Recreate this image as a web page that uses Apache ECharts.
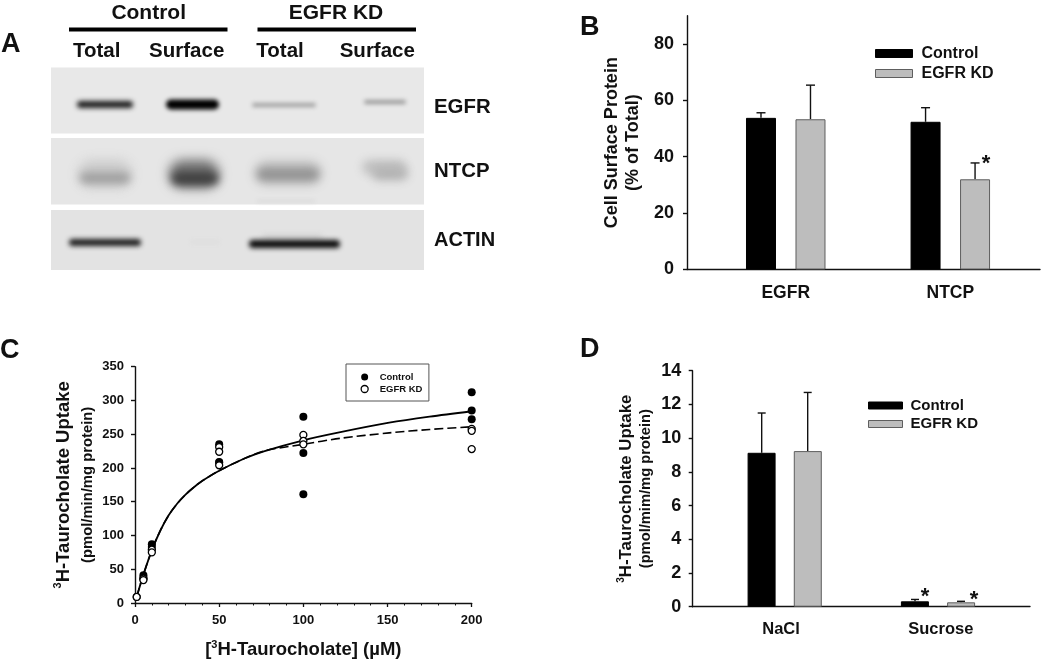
<!DOCTYPE html>
<html>
<head>
<meta charset="utf-8">
<style>
  html, body { margin: 0; padding: 0; background: #fff; }
  #main { width: 1050px; height: 660px; }
</style>
<script src="https://cdn.jsdelivr.net/npm/echarts@6/dist/echarts.min.js"></script>
</head>
<body>
<div id="main"></div>
<script>
// panel B
const surfaceGroups = ['EGFR', 'NTCP']
const surfaceControl = [53.8, 52.4]
const surfaceControlErr = [55.6, 57.4]
const surfaceKd = [53.3, 32]
const surfaceKdErr = [65.4, 37.8]
const surfaceTicks = [0, 20, 40, 60, 80]

// panel C
const concControl = [1, 5, 5, 10, 10, 50, 50, 50, 100, 100, 100, 200, 200, 200]
const uptakeControl = [9, 41, 37, 87, 83, 235, 209, 208, 276, 222, 161, 312, 285, 272]
const concKd = [1, 5, 5, 10, 10, 50, 50, 50, 100, 100, 100, 200, 200, 200]
const uptakeKd = [9, 36, 34, 79, 75, 231, 224, 204, 249, 240, 235, 258, 255, 228]
const curveX = [1, 5, 10, 15, 20, 25, 30, 35, 40, 50, 65, 77, 100, 122, 151, 175, 200]
const curveControl = [9, 42, 78, 107, 130, 147, 160.5, 171.5, 181, 196, 214, 225, 241, 253, 267, 276, 284]
const curveKd = [9, 42, 78, 107, 130, 147, 160.5, 171.5, 181, 196, 214, 225.5, 235, 244, 252, 257, 261]

// panel D
const bufferGroups = ['NaCl', 'Sucrose']
const bufferLabelPos = [-0.024, 1.018]
const bufferControl = [9.13, 0.32]
const bufferControlErr = [11.49, 0.43]
const bufferKd = [9.23, 0.26]
const bufferKdErr = [12.71, 0.32]
const bufferTicks = [0, 2, 4, 6, 8, 10, 12, 14]

const legendNames = ['Control', 'EGFR KD']
const FONT = '"Liberation Sans", Arial, sans-serif'
const INK = '#111'

// soft edged rectangle for the blot: only the shadow of an off-screen rect is visible
function smear(x, y, w, h, color, blur) {
  return {
    type: 'rect',
    silent: true,
    shape: { x: x - 3000, y, width: w, height: h, r: h / 2 },
    style: { fill: color, shadowColor: color, shadowBlur: blur, shadowOffsetX: 3000 },
  }
}

function label(text, x, y, size, align) {
  return {
    type: 'text',
    silent: true,
    x,
    y,
    style: {
      text,
      fill: INK,
      font: `bold ${size}px ${FONT}`,
      textAlign: align || 'center',
      textVerticalAlign: 'middle',
    },
  }
}

function panelRect(y, h, fill) {
  return { type: 'rect', silent: true, shape: { x: 51, y, width: 373, height: h }, style: { fill } }
}

const blot = [
  panelRect(67.5, 66, '#e8e8e8'),
  panelRect(138, 66.5, '#e6e6e6'),
  panelRect(210, 60, '#e3e3e3'),

  // EGFR
  smear(77, 101, 56, 7, '#1c1c1c', 5),
  smear(166, 99.5, 53, 10, '#000000', 4),
  smear(252, 103, 64, 4, '#a0a0a0', 4),
  smear(364, 100, 42, 4, '#989898', 4),
  // NTCP
  smear(78, 160, 54, 28, '#cbcbcb', 12),
  smear(80, 173, 50, 10, '#9c9c9c', 9),
  smear(169, 160, 50, 28, '#6e6e6e', 12),
  smear(172, 173, 46, 11, '#3c3c3c', 9),
  smear(255, 162, 66, 22, '#b4b4b4', 11),
  smear(258, 170, 60, 9, '#8e8e8e', 8),
  smear(257, 200, 58, 2, '#d4d4d4', 4),
  smear(362, 160, 44, 14, '#c0c0c0', 10),
  smear(372, 167, 36, 13, '#b2b2b2', 10),
  // ACTIN
  smear(69, 239, 72, 7, '#1c1c1c', 5),
  smear(262, 236, 60, 3, '#bdbdbd', 6),
  smear(249, 240, 91, 8, '#0a0a0a', 5),
  smear(190, 241, 30, 2, '#d8d8d8', 5),

  label('Control', 148.7, 13, 21),
  label('EGFR KD', 336, 13, 21),
  { type: 'rect', silent: true, shape: { x: 69, y: 27.5, width: 158.5, height: 4 }, style: { fill: '#000' } },
  { type: 'rect', silent: true, shape: { x: 257.5, y: 27.5, width: 158.5, height: 4 }, style: { fill: '#000' } },
  label('Total', 96.7, 51, 20.5),
  label('Surface', 186.7, 51, 20.5),
  label('Total', 280, 51, 20.5),
  label('Surface', 377.3, 51, 20.5),
  label('EGFR', 434, 107, 20.4, 'left'),
  label('NTCP', 434, 171, 20.4, 'left'),
  label('ACTIN', 434, 240.5, 20, 'left'),
  label('A', 1, 44.5, 27, 'left'),
  label('B', 580, 27.5, 27, 'left'),
  label('C', 0, 351, 27, 'left'),
  label('D', 580, 350, 27, 'left'),
]

function pairs(xs, ys) {
  return xs.map((x, i) => [x, ys[i]])
}

function errorSeries(name, axisIndex, values, tops, offset, capHalf, starred, starDx, starDy) {
  return {
    name,
    type: 'custom',
    xAxisIndex: axisIndex,
    yAxisIndex: axisIndex,
    clip: false,
    silent: true,
    encode: { x: 0, y: 1 },
    data: values.map((v, i) => [i, tops[i], v, starred[i]]),
    renderItem(params, api) {
      const top = api.coord([api.value(0), api.value(1)])
      const base = api.coord([api.value(0), api.value(2)])
      const x = top[0] + offset
      const line = { stroke: '#111', lineWidth: 1.4 }
      const children = [
        { type: 'line', shape: { x1: x, y1: base[1], x2: x, y2: top[1] }, style: line },
        { type: 'line', shape: { x1: x - capHalf, y1: top[1], x2: x + capHalf, y2: top[1] }, style: line },
      ]
      if (api.value(3)) {
        children.push({
          type: 'text',
          x: x + starDx,
          y: top[1] + starDy,
          style: {
            text: '*',
            fill: INK,
            font: `bold 22px ${FONT}`,
            textAlign: 'center',
            textVerticalAlign: 'middle',
          },
        })
      }
      return { type: 'group', children }
    },
  }
}

function barSeries(name, axisIndex, values, barWidth) {
  return {
    name,
    type: 'bar',
    xAxisIndex: axisIndex,
    yAxisIndex: axisIndex,
    barWidth,
    barGap: '65%',
    silent: true,
    itemStyle: name === 'Control'
      ? { color: '#000', borderColor: '#000', borderWidth: 1 }
      : { color: '#bdbdbd', borderColor: '#5e5e5e', borderWidth: 1 },
    data: values.map((v, i) => [i, v]),
  }
}

const axisLine = { show: true, onZero: false, lineStyle: { color: '#111', width: 1.4 } }

function yAxis(gridIndex, max, ticks, labelMargin, tickLen, fontSize, name, nameGap, rich) {
  return {
    type: 'value',
    gridIndex,
    min: 0,
    max,
    name,
    nameLocation: 'middle',
    nameRotate: 90,
    nameGap,
    nameTextStyle: { rich },
    axisLine,
    axisTick: { show: true, length: tickLen, customValues: ticks, lineStyle: { color: '#111', width: 1.4 } },
    axisLabel: { customValues: ticks, margin: labelMargin, fontSize, fontWeight: 'bold', color: INK, fontFamily: FONT },
    splitLine: { show: false },
  }
}

function groupAxis(gridIndex, min, max, positions, names, fontSize, margin) {
  return {
    type: 'value',
    gridIndex,
    min,
    max,
    axisLine,
    axisTick: { show: false },
    axisLabel: {
      customValues: positions,
      margin,
      fontSize,
      fontWeight: 'bold',
      color: INK,
      fontFamily: FONT,
      formatter: (value) => names[positions.indexOf(value)],
    },
    splitLine: { show: false },
  }
}

function barLegend(left, top, fontSize, itemWidth, itemHeight, itemGap, textPad) {
  return {
    orient: 'vertical',
    left,
    top,
    padding: 0,
    itemWidth,
    itemHeight,
    itemGap,
    selectedMode: false,
    textStyle: { fontSize, fontWeight: 'bold', color: INK, fontFamily: FONT, padding: [0, 0, 0, textPad] },
    data: [
      { name: legendNames[0], icon: 'rect', itemStyle: { color: '#000', borderColor: '#000', borderWidth: 1 } },
      { name: legendNames[1], icon: 'rect', itemStyle: { color: '#bdbdbd', borderColor: '#5e5e5e', borderWidth: 1 } },
    ],
  }
}

const option = {
  animation: false,
  backgroundColor: '#fff',
  textStyle: { fontFamily: FONT, fontWeight: 'bold', color: INK },
  graphic: { elements: blot },
  grid: [
    { left: 687, top: 15.8, width: 353, height: 253.7, outerBoundsMode: 'none' },
    { left: 135, top: 366.7, width: 336.7, height: 236.3, outerBoundsMode: 'none' },
    { left: 692.7, top: 370.7, width: 337.3, height: 236, outerBoundsMode: 'none' },
  ],
  legend: [
    barLegend(875, 45.5, 16, 37, 8, 4, 4),
    barLegend(868, 398, 15, 34, 7, 3.5, 3),
    {
      orient: 'vertical',
      left: 346,
      top: 364,
      padding: [8, 6.5, 7, 14.5],
      itemWidth: 20,
      itemHeight: 7,
      itemGap: 2,
      selectedMode: false,
      borderColor: '#555',
      borderWidth: 1,
      textStyle: { fontSize: 9.5, fontWeight: 'bold', color: INK, fontFamily: FONT },
      data: [
        { name: legendNames[0], icon: 'circle', itemStyle: { color: '#000', borderColor: '#000', borderWidth: 0 } },
        { name: legendNames[1], icon: 'circle', itemStyle: { color: '#fff', borderColor: '#000', borderWidth: 1.3 } },
      ],
    },
  ],
  xAxis: [
    groupAxis(0, -0.6, 1.545, [0, 1], surfaceGroups, 17.5, 15),
    {
      type: 'value',
      gridIndex: 1,
      min: 0,
      max: 200,
      interval: 50,
      name: '{big|[}{sup|3}{big|H-Taurocholate] (µM)}',
      nameLocation: 'middle',
      nameGap: 36,
      nameTextStyle: {
        rich: {
          big: { fontSize: 18.5, fontWeight: 'bold', color: INK, fontFamily: FONT, lineHeight: 22 },
          sup: { fontSize: 11, fontWeight: 'bold', color: INK, fontFamily: FONT, verticalAlign: 'top', lineHeight: 22 },
        },
      },
      axisLine,
      axisTick: { show: true, length: 4, lineStyle: { color: '#111', width: 1.3 } },
      minorTick: { show: true, splitNumber: 5, length: 2.5, lineStyle: { color: '#111', width: 1 } },
      axisLabel: { margin: 11, fontSize: 13, fontWeight: 'bold', color: INK, fontFamily: FONT },
      splitLine: { show: false },
    },
    groupAxis(2, -0.6, 1.6, bufferLabelPos, bufferGroups, 16.5, 14),
  ],
  yAxis: [
    yAxis(0, 90, surfaceTicks, 13, 4, 18, '{a|Cell Surface Protein}\n{a|(% of Total)}', 43, {
      a: { fontSize: 18, fontWeight: 'bold', color: INK, fontFamily: FONT, lineHeight: 21.5 },
    }),
    yAxis(1, 350, [0, 50, 100, 150, 200, 250, 300, 350], 11, 4, 13, '{sup|3}{big|H-Taurocholate Uptake}\n{small|(pmol/min/mg protein)}', 35, {
      big: { fontSize: 18.5, fontWeight: 'bold', color: INK, fontFamily: FONT, lineHeight: 24 },
      sup: { fontSize: 11, fontWeight: 'bold', color: INK, fontFamily: FONT, verticalAlign: 'top', lineHeight: 24 },
      small: { fontSize: 14.8, fontWeight: 'bold', color: INK, fontFamily: FONT, lineHeight: 24 },
    }),
    yAxis(2, 14, bufferTicks, 11.5, 4, 18, '{sup|3}{big|H-Taurocholate Uptake}\n{small|(pmol/mim/mg protein)}', 36.5, {
      big: { fontSize: 16.8, fontWeight: 'bold', color: INK, fontFamily: FONT, lineHeight: 20 },
      sup: { fontSize: 10, fontWeight: 'bold', color: INK, fontFamily: FONT, verticalAlign: 'top', lineHeight: 20 },
      small: { fontSize: 14.7, fontWeight: 'bold', color: INK, fontFamily: FONT, lineHeight: 20 },
    }),
  ],
  series: [
    barSeries('Control', 0, surfaceControl, 30),
    barSeries('EGFR KD', 0, surfaceKd, 30),
    errorSeries('Control error', 0, surfaceControl, surfaceControlErr, -24.75, 4.5, [0, 0], 0, 0),
    errorSeries('EGFR KD error', 0, surfaceKd, surfaceKdErr, 24.75, 4.5, [0, 1], 11, 1),

    barSeries('Control', 2, bufferControl, 28),
    barSeries('EGFR KD', 2, bufferKd, 28),
    errorSeries('Control error', 2, bufferControl, bufferControlErr, -23, 4, [0, 1], 10, -3),
    errorSeries('EGFR KD error', 2, bufferKd, bufferKdErr, 23, 4, [0, 1], 13, -1),

    {
      name: 'Control curve',
      type: 'line',
      xAxisIndex: 1,
      yAxisIndex: 1,
      smooth: 0.3,
      showSymbol: false,
      silent: true,
      z: 3,
      lineStyle: { color: '#000', width: 1.8 },
      data: pairs(curveX, curveControl),
    },
    {
      name: 'EGFR KD curve',
      type: 'line',
      xAxisIndex: 1,
      yAxisIndex: 1,
      smooth: 0.3,
      showSymbol: false,
      silent: true,
      z: 2,
      lineStyle: { color: '#000', width: 1.6, type: [9, 4] },
      data: pairs(curveX, curveKd),
    },
    {
      name: 'Control',
      type: 'scatter',
      xAxisIndex: 1,
      yAxisIndex: 1,
      symbolSize: 8,
      silent: true,
      z: 4,
      itemStyle: { color: '#000', opacity: 1 },
      data: pairs(concControl, uptakeControl),
    },
    {
      name: 'EGFR KD',
      type: 'scatter',
      xAxisIndex: 1,
      yAxisIndex: 1,
      symbolSize: 7,
      silent: true,
      z: 5,
      itemStyle: { color: '#fff', borderColor: '#000', borderWidth: 1.3, opacity: 1 },
      data: pairs(concKd, uptakeKd),
    },
  ],
}

const chart = echarts.init(document.getElementById('main'), null, { renderer: 'canvas' })
chart.setOption(option)
</script>
</body>
</html>
